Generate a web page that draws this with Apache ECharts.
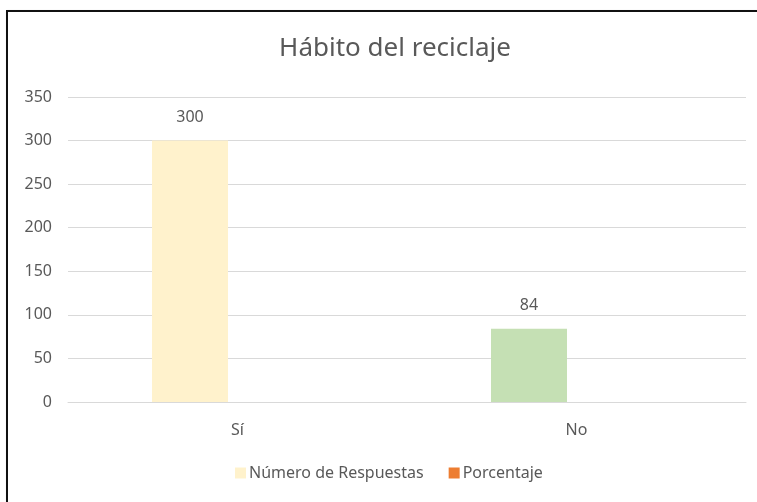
<!DOCTYPE html>
<html>
<head>
<meta charset="utf-8">
<script src="https://cdn.jsdelivr.net/npm/echarts@6/dist/echarts.min.js"></script>
<style>
  html, body { margin: 0; padding: 0; background: #fff; }
  #frame { position: absolute; left: 6px; top: 10px; width: 800px; height: 600px; border: 2px solid #111; box-sizing: border-box; box-shadow: 1px 1px 2px rgba(0,0,0,0.25); }
  #chart { position: absolute; left: 0; top: 0; width: 757px; height: 502px; }
</style>
</head>
<body>
<div id="frame"></div>
<div id="chart"></div>
<script>
const title = 'Hábito del reciclaje';
const categories = ['Sí', 'No'];
const seriesNames = ['Número de Respuestas', 'Porcentaje'];
const respuestas = [300, 84];
const porcentaje = [0.78, 0.22];
const yTicks = { min: 0, max: 350, interval: 50 };

const barColors = ['#FFF2CC', '#C5E0B4'];
const font = '"Noto Sans", sans-serif';
const txt = '#595959';

const chart = echarts.init(document.getElementById('chart'), null, { renderer: 'canvas' });
chart.setOption({
  backgroundColor: 'transparent',
  animation: false,
  title: {
    text: title,
    left: 390, top: 31, textAlign: 'center',
    textStyle: { fontFamily: font, fontSize: 26, fontWeight: 'normal', color: txt }
  },
  legend: {
    left: 230, top: 460,
    itemWidth: 11, itemHeight: 11, itemGap: 25,
    icon: 'rect',
    textStyle: { fontFamily: font, fontSize: 16, color: txt, padding: [0, 0, 0, -2] },
    data: [
      { name: seriesNames[0], itemStyle: { color: barColors[0], opacity: 1 } },
      { name: seriesNames[1], itemStyle: { color: '#ED7D31', opacity: 1 } }
    ]
  },
  grid: { left: 68, right: 11, top: 97, bottom: 100, containLabel: false },
  xAxis: {
    type: 'category',
    data: categories,
    axisLine: { lineStyle: { color: '#d9d9d9', width: 1 } },
    axisTick: { show: false },
    axisLabel: { fontFamily: font, fontSize: 16, color: txt, margin: 20 }
  },
  yAxis: {
    type: 'value',
    min: yTicks.min, max: yTicks.max, interval: yTicks.interval,
    axisLine: { show: false },
    axisTick: { show: false },
    splitLine: { lineStyle: { color: '#d9d9d9', width: 1 } },
    axisLabel: { fontFamily: font, fontSize: 16, color: txt, margin: 16 }
  },
  series: [
    {
      name: seriesNames[0], type: 'bar',
      barWidth: 76, barGap: '25%',
      data: respuestas.map((v, i) => ({ value: v, itemStyle: { color: barColors[i] } })),
      itemStyle: { color: barColors[0] },
      label: { show: true, position: 'top', distance: 15, fontFamily: font, fontSize: 16, color: txt }
    },
    {
      name: seriesNames[1], type: 'bar',
      barWidth: 76, barGap: '25%',
      data: porcentaje,
      itemStyle: { color: '#ED7D31', opacity: 0 },
      label: { show: false }
    }
  ]
});
</script>
</body>
</html>
